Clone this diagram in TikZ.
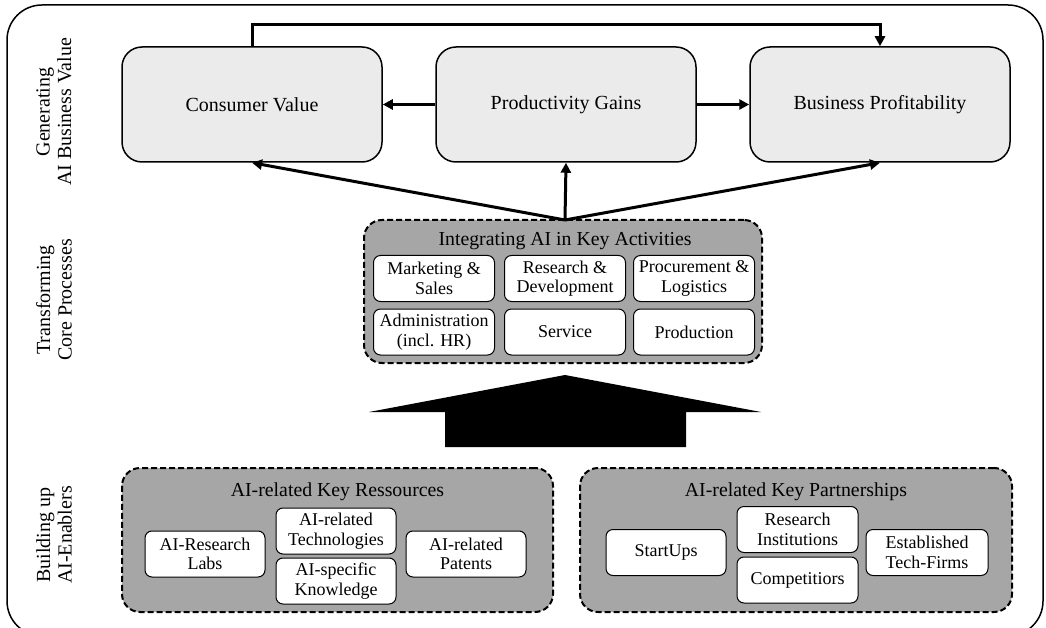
\documentclass[tikz,border=0pt]{standalone}
\usepackage{fontspec}
\setmainfont{Liberation Serif}
\usetikzlibrary{arrows.meta}
\definecolor{lightbox}{HTML}{EBEBEB}
\definecolor{groupgray}{HTML}{A6A6A6}
\begin{document}
\begin{tikzpicture}[x=1pt,y=-1pt,
  font=\fontsize{20}{22}\selectfont,
  topbox/.style={draw, line width=1.5pt, fill=lightbox, rounded corners=20pt, minimum width=260pt, minimum height=115pt, inner sep=0pt},
  group/.style={draw, line width=2pt, dash pattern=on 6pt off 3pt, fill=groupgray, rounded corners=18pt, inner sep=0pt},
  item/.style={draw, line width=1pt, fill=white, rounded corners=7pt, minimum width=121pt, minimum height=46pt, inner sep=1pt, align=center, font=\fontsize{18}{19.5}\selectfont},
  titletext/.style={inner sep=0pt, font=\fontsize{19.8}{21}\selectfont},
  sidelabel/.style={rotate=90, align=center, inner sep=0pt, font=\fontsize{20}{21.5}\selectfont},
  conn/.style={line width=3pt, -{Triangle[length=10pt,width=10pt]}}
]
\useasboundingbox (0,0) rectangle (1046,628);
\draw[line width=1.5pt, rounded corners=35pt] (7,5) rectangle (1043,636);

% side labels
\node[sidelabel] (l1) at (54,112) {Generating\\AI Business Value};
\node[sidelabel] (l2) at (54,300) {Transforming\\Core Processes};
\node[sidelabel] (l3) at (54,535) {Building up\\AI-Enablers};

% top boxes
\node[topbox] (cv) at (252,104.5) {Consumer Value};
\node[topbox] (pg) at (566,104.5) {Productivity Gains};
\node[topbox] (bp) at (880,104.5) {Business Profitability};

% middle group
\node[group, minimum width=398pt, minimum height=143pt] (ka) at (563,291.5) {};
\node[titletext] (kat) at (565,241) {Integrating AI in Key Activities};
\node[item] (ms) at (434,278.5) {Marketing \&\\Sales};
\node[item] (rd) at (565,278.5) {Research \&\\Development};
\node[item] (pl) at (694,278.5) {Procurement \&\\Logistics};
\node[item] (ad) at (434,332) {Administration\\(incl. HR)};
\node[item] (sv) at (565,332) {Service};
\node[item] (pr) at (694,332) {Production};

% connectors
\coordinate (kaTop) at (565,220);
\draw[conn] (kaTop) -- (cv.south);
\draw[conn] (kaTop) -- (pg.south);
\draw[conn] (kaTop) -- (bp.south);
\draw[conn] (pg.west) -- (cv.east);
\draw[conn] (pg.east) -- (bp.east -| bp.west);
\draw[conn] (cv.north) -- ++(0,-22) -| (bp.north);

% big arrow
\fill (565,375) -- (369,412) -- (445,412) -- (445,447) -- (686,447) -- (686,412) -- (761,412) -- cycle;

% bottom left group
\node[group, minimum width=431pt, minimum height=144pt] (kr) at (337.5,540) {};
\node[titletext] (krt) at (337.5,492) {AI-related Key Ressources};
\node[item, minimum width=120pt] (rl) at (205,554) {AI-Research\\Labs};
\node[item, minimum width=120pt] (tech) at (336,531) {AI-related\\Technologies};
\node[item, minimum width=120pt] (kn) at (336,581) {AI-specific\\Knowledge};
\node[item, minimum width=120pt] (pa) at (466,554) {AI-related\\Patents};

% bottom right group
\node[group, minimum width=432pt, minimum height=144pt] (kp) at (796,540) {};
\node[titletext] (kpt) at (796,492) {AI-related Key Partnerships};
\node[item, minimum width=120pt] (su) at (666,552.5) {StartUps};
\node[item, minimum width=121pt] (ri) at (797.5,529.5) {Research\\Institutions};
\node[item, minimum width=121pt] (co) at (797.5,580) {Competitiors};
\node[item, minimum width=122pt] (et) at (927,552.5) {Established\\Tech-Firms};
\end{tikzpicture}
\end{document}
